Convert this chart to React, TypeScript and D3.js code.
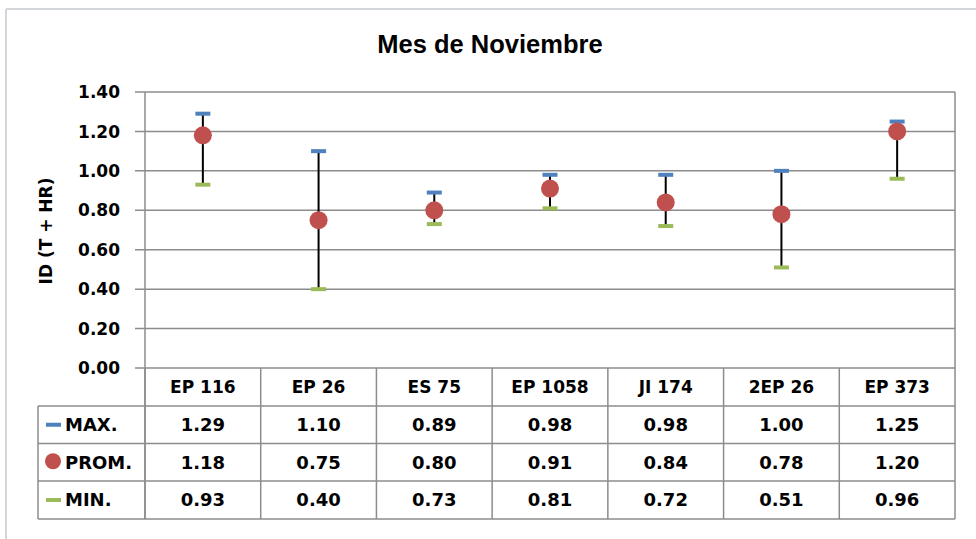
import { useMemo } from "react";
import * as d3 from "d3";

const categories = ["EP 116", "EP 26", "ES 75", "EP 1058", "JI 174", "2EP 26", "EP 373"];
const maxValues = [1.29, 1.1, 0.89, 0.98, 0.98, 1.0, 1.25];
const promValues = [1.18, 0.75, 0.8, 0.91, 0.84, 0.78, 1.2];
const minValues = [0.93, 0.4, 0.73, 0.81, 0.72, 0.51, 0.96];
const yTicks = [0, 0.2, 0.4, 0.6, 0.8, 1.0, 1.2, 1.4];

const W = 976;
const H = 539;
const PLOT = { left: 145, right: 955, top: 92, bottom: 368 };
const TABLE_LEFT = 38;
const ROW_LINES = [406, 443.5, 481, 519];

const BLUE = "#4f81bd";
const RED = "#c0504d";
const GREEN = "#9bbb59";
const GRID = "#8c8c8c";
const FONT = "'DejaVu Sans', sans-serif";

export default function App() {
  const x = useMemo(
    () => d3.scaleBand<string>().domain(categories).range([PLOT.left, PLOT.right]),
    []
  );
  const y = useMemo(
    () => d3.scaleLinear().domain([0, 1.4]).range([PLOT.bottom, PLOT.top]),
    []
  );
  const bw = x.bandwidth();

  const rows = [
    { label: "MAX.", values: maxValues, kind: "max" },
    { label: "PROM.", values: promValues, kind: "prom" },
    { label: "MIN.", values: minValues, kind: "min" },
  ];

  return (
    <svg
      width={W}
      height={H}
      style={{ position: "fixed", left: 0, top: 0, background: "#fff" }}
      fontFamily={FONT}
      fontWeight="bold"
    >
      {/* chart frame */}
      <line x1={6} x2={W} y1={9} y2={9} stroke="#d3d7dc" strokeWidth={2} />
      <line x1={6} x2={6} y1={9} y2={H} stroke="#d3d7dc" strokeWidth={2} />

      <text
        x={490}
        y={52.5}
        textAnchor="middle"
        fontSize={25.5}
        fontFamily="'Liberation Sans', Arial, sans-serif"
        fill="#000"
      >
        Mes de Noviembre
      </text>

      {/* gridlines + ticks */}
      {yTicks.map((t) => (
        <g key={t}>
          <line x1={PLOT.left - 10} x2={PLOT.right} y1={y(t)} y2={y(t)} stroke={GRID} strokeWidth={1.5} />
          <text x={120} y={y(t)} dy="0.36em" textAnchor="end" fontSize={17} fill="#000">
            {t.toFixed(2)}
          </text>
        </g>
      ))}
      <line x1={PLOT.left} x2={PLOT.left} y1={PLOT.top} y2={ROW_LINES[3]} stroke={GRID} strokeWidth={1.5} />
      <line x1={PLOT.right} x2={PLOT.right} y1={PLOT.top} y2={ROW_LINES[3]} stroke={GRID} strokeWidth={1.5} />

      <text
        transform={`translate(46,231) rotate(-90)`}
        textAnchor="middle"
        dy="0.36em"
        fontSize={17}
        fill="#000"
      >
        ID (T + HR)
      </text>

      {/* error bars */}
      {categories.map((c, i) => {
        const cx = x(c)! + bw / 2;
        return (
          <g key={c}>
            <line x1={cx} x2={cx} y1={y(maxValues[i])} y2={y(minValues[i])} stroke="#000" strokeWidth={2} />
            <rect x={cx - 7.5} y={y(maxValues[i]) - 2} width={15} height={4} fill={BLUE} />
            <rect x={cx - 7.5} y={y(minValues[i]) - 2} width={15} height={4} fill={GREEN} />
            <circle cx={cx} cy={y(promValues[i])} r={9} fill={RED} />
          </g>
        );
      })}

      {/* data table */}
      {categories.map((c) => (
        <g key={"col" + c}>
          <line x1={x(c)!} x2={x(c)!} y1={PLOT.bottom} y2={ROW_LINES[3]} stroke={GRID} strokeWidth={1.5} />
          <text x={x(c)! + bw / 2} y={(PLOT.bottom + ROW_LINES[0]) / 2} dy="0.36em" textAnchor="middle" fontSize={17} fill="#000">
            {c}
          </text>
        </g>
      ))}
      {ROW_LINES.map((ry) => (
        <line key={ry} x1={TABLE_LEFT} x2={PLOT.right} y1={ry} y2={ry} stroke={GRID} strokeWidth={1.5} />
      ))}
      <line x1={TABLE_LEFT} x2={TABLE_LEFT} y1={ROW_LINES[0]} y2={ROW_LINES[3]} stroke={GRID} strokeWidth={1.5} />

      {rows.map((r, ri) => {
        const cy = (ROW_LINES[ri] + ROW_LINES[ri + 1]) / 2;
        return (
          <g key={r.label}>
            {r.kind === "prom" ? (
              <circle cx={53} cy={cy - 1} r={8} fill={RED} />
            ) : (
              <rect x={46} y={cy - 2} width={15} height={4} fill={r.kind === "max" ? BLUE : GREEN} />
            )}
            <text x={65} y={cy} dy="0.36em" fontSize={18} fill="#000">
              {r.label}
            </text>
            {categories.map((c, i) => (
              <text key={c} x={x(c)! + bw / 2} y={cy} dy="0.36em" textAnchor="middle" fontSize={18} fill="#000">
                {r.values[i].toFixed(2)}
              </text>
            ))}
          </g>
        );
      })}
    </svg>
  );
}
